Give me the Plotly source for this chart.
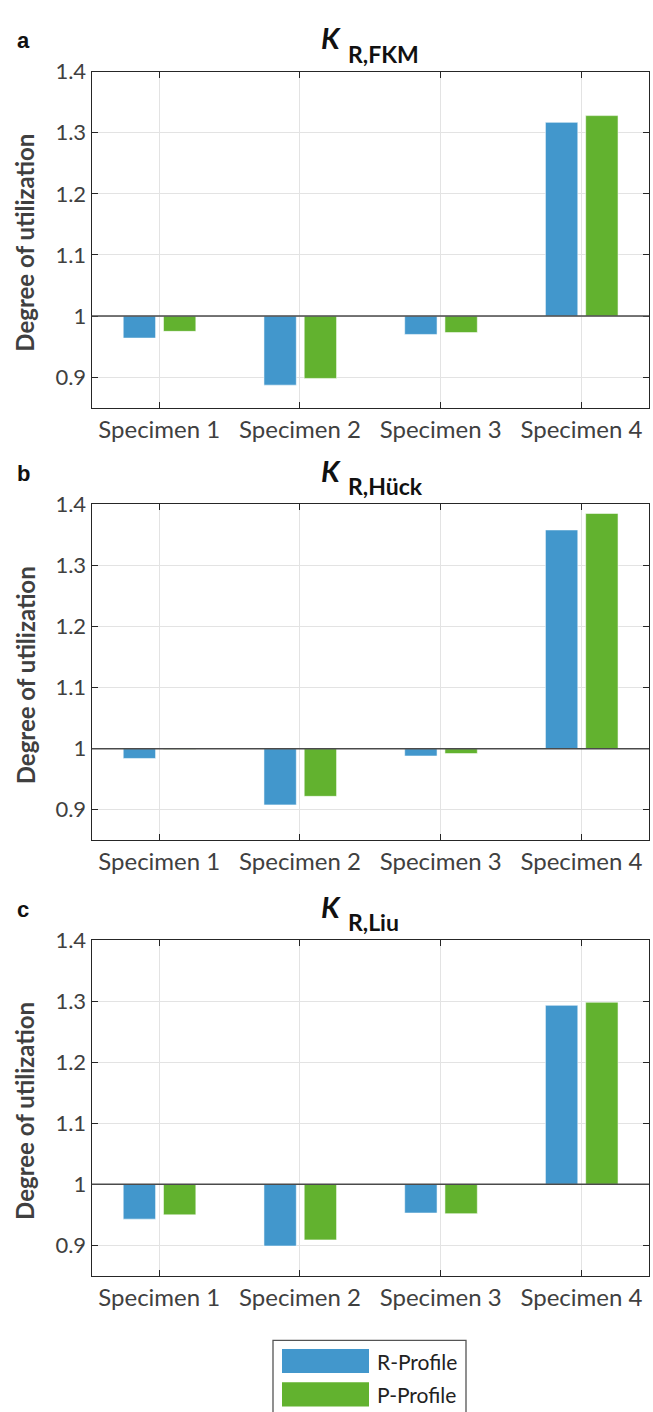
import plotly.graph_objects as go

categories = ["Specimen 1", "Specimen 2", "Specimen 3", "Specimen 4"]
panel_labels = ["a", "b", "c"]
panel_subscripts = ["R,FKM", "R,Hück", "R,Liu"]
r_profile = [
    [0.964, 0.887, 0.970, 1.317],
    [0.984, 0.908, 0.988, 1.358],
    [0.943, 0.899, 0.953, 1.293],
]
p_profile = [
    [0.975, 0.898, 0.973, 1.328],
    [0.999, 0.922, 0.992, 1.385],
    [0.950, 0.909, 0.952, 1.298],
]
ytick_vals = [0.9, 1.0, 1.1, 1.2, 1.3, 1.4]
ytick_text = ["0.9", "1", "1.1", "1.2", "1.3", "1.4"]
series_names = ["R-Profile", "P-Profile"]

W, H = 653, 1412
BLUE = "#4297cc"
GREEN = "#62b22f"
AX = "#262626"
TXT = "#404040"
FONT = "Lato"

# panel layout in pixels (top, bottom)
x_left, x_right = 91.7, 649.0
panels_px = [(58.2, 397.7), (495.2, 834.6), (935.2, 1274.6)]

fig = go.Figure()
annotations = []
shapes = []

for i in range(3):
    xa = "x" if i == 0 else f"x{i+1}"
    ya = "y" if i == 0 else f"y{i+1}"
    xs = list(range(len(categories)))
    fig.add_trace(go.Bar(
        x=xs, y=[v - 1 for v in r_profile[i]], base=1,
        width=0.23, offset=-0.256,
        marker=dict(color=BLUE, line=dict(color="rgba(255,255,255,0.55)", width=1)),
        name=series_names[0], showlegend=False, xaxis=xa, yaxis=ya))
    fig.add_trace(go.Bar(
        x=xs, y=[v - 1 for v in p_profile[i]], base=1,
        width=0.23, offset=0.03,
        marker=dict(color=GREEN, line=dict(color="rgba(255,255,255,0.55)", width=1)),
        name=series_names[1], showlegend=False, xaxis=xa, yaxis=ya))

    top, bot = panels_px[i]
    dom_y = [1 - bot / H, 1 - top / H]
    dom_x = [x_left / W, x_right / W]
    key = "" if i == 0 else str(i + 1)
    fig.update_layout(**{
        f"xaxis{key}": dict(
            domain=dom_x, range=[-0.48, 3.48], anchor=ya,
            tickvals=xs, ticktext=categories,
            showgrid=True, gridcolor="#e3e3e3", gridwidth=1,
            showline=True, linecolor=AX, linewidth=1.3, mirror="ticks",
            ticks="inside", ticklen=6, tickcolor=AX,
            tickfont=dict(family=FONT, size=24, color=TXT),
            zeroline=False, fixedrange=True),
        f"yaxis{key}": dict(
            domain=dom_y, range=[0.85, 1.4], anchor=xa,
            tickvals=ytick_vals, ticktext=ytick_text,
            showgrid=True, gridcolor="#e3e3e3", gridwidth=1,
            showline=True, linecolor=AX, linewidth=1.3, mirror="ticks",
            ticks="inside", ticklen=6, tickcolor=AX,
            tickfont=dict(family=FONT, size=22, color=TXT),
            zeroline=False, fixedrange=True),
    })
    # baseline at 1
    shapes.append(dict(type="line", xref=f"{xa} domain", yref=ya,
                       x0=0, x1=1, y0=1, y1=1,
                       line=dict(color="#4a4a4a", width=1.5), layer="above"))
    # y-axis title
    annotations.append(dict(
        text="<b>Degree of utilization</b>", xref="paper", yref="paper",
        x=25 / W, y=1 - ((top + bot) / 2 + 3) / H, textangle=-90,
        showarrow=False, xanchor="center", yanchor="middle",
        font=dict(family=FONT, size=24, color=TXT)))
    # panel label
    annotations.append(dict(
        text=f"<b>{panel_labels[i]}</b>", xref="paper", yref="paper",
        x=15 / W, y=1 - (top - 31) / H, showarrow=False,
        xanchor="left", yanchor="middle",
        font=dict(family="Liberation Sans", size=22, color="#111111")))
    # title K + subscript
    annotations.append(dict(
        text="<b><i>K</i></b>", xref="paper", yref="paper",
        x=343 / W, y=1 - (top - 34) / H, showarrow=False,
        xanchor="right", yanchor="middle",
        font=dict(family=FONT, size=29, color="#111111")))
    annotations.append(dict(
        text=f"<b>{panel_subscripts[i]}</b>", xref="paper", yref="paper",
        x=346 / W, y=1 - (top - 18) / H, showarrow=False,
        xanchor="left", yanchor="middle",
        font=dict(family=FONT, size=23, color="#111111")))

# legend box (drawn)
lx0, lx1, ly0 = 273, 466, 1339.7
shapes.append(dict(type="rect", xref="paper", yref="paper",
                   x0=lx0 / W, x1=lx1 / W, y0=1 - ly0 / H, y1=-0.01,
                   line=dict(color="#555555", width=1.3), fillcolor="white"))
for j, (col, nm) in enumerate([(BLUE, series_names[0]), (GREEN, series_names[1])]):
    y0 = 1348.3 + j * 33.7
    y1 = y0 + 24.4
    shapes.append(dict(type="rect", xref="paper", yref="paper",
                       x0=282 / W, x1=369 / W, y0=1 - y1 / H, y1=1 - y0 / H,
                       line=dict(width=0), fillcolor=col))
    annotations.append(dict(
        text=nm, xref="paper", yref="paper", x=375 / W, y=1 - ((y0 + y1) / 2) / H,
        showarrow=False, xanchor="left", yanchor="middle",
        font=dict(family=FONT, size=21, color="#222222")))

fig.update_layout(
    width=W, height=H,
    margin=dict(l=0, r=0, t=0, b=0),
    paper_bgcolor="white", plot_bgcolor="white",
    barmode="overlay", showlegend=False,
    annotations=annotations, shapes=shapes,
)

fig.write_html("out.html")
